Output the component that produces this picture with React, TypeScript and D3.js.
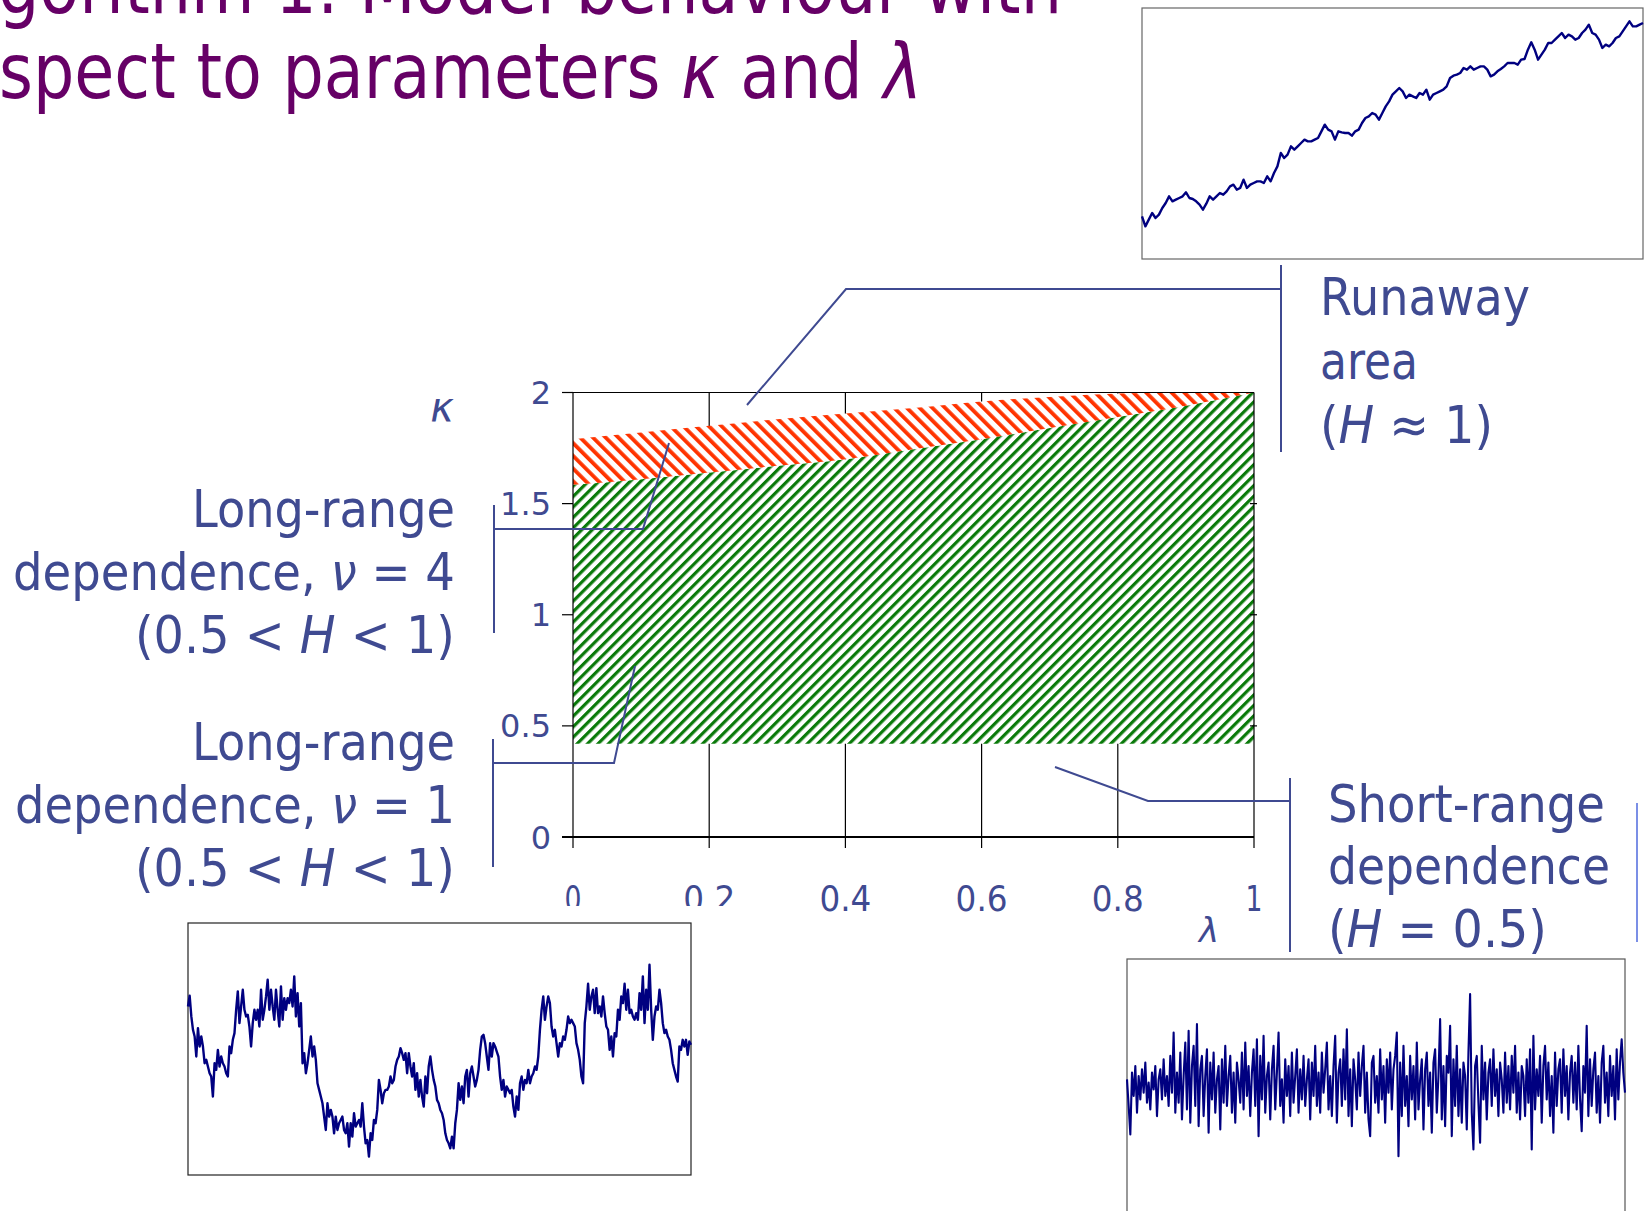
import React, { useLayoutEffect, useRef, useState } from 'react';
import * as d3 from 'd3';

// ---------- data ----------
const lambdaTicks = [0, 0.2, 0.4, 0.6, 0.8, 1];
const lambdaTickLabels = ['0', '0.2', '0.4', '0.6', '0.8', '1'];
const kappaTicks = [0, 0.5, 1, 1.5, 2];
const kappaTickLabels = ['0', '0.5', '1', '1.5', '2'];

const lambdaGrid = [0, 0.1, 0.2, 0.3, 0.4, 0.5, 0.6, 0.7, 0.8, 0.9, 1.0];
const lrdUpper = [1.585, 1.61, 1.64, 1.67, 1.70, 1.745, 1.79, 1.84, 1.89, 1.94, 2.0];
const runawayUpper = [1.79, 1.82, 1.85, 1.88, 1.905, 1.93, 1.96, 1.98, 1.995, 2.0, 2.0];
const lrdLower = 0.42;

// top-right inset: runaway (H ~ 1)
const runawaySeries = [13, 10, 12, 14, 12.5, 13.5, 15.5, 17, 19, 17.5, 18, 18.5, 19, 20.2, 18.5, 18.2, 17.5, 16.5, 15, 16.8, 19, 18, 19, 20, 19.5, 20.5, 22, 22.5, 21, 21.5, 24, 21.5, 22.5, 23, 23.5, 23.5, 23, 25, 23.5, 26, 28, 32, 30.5, 31.5, 34, 33, 34, 35, 36, 35.5, 35.5, 36, 36.5, 38.5, 40.5, 39, 38.5, 36, 38.5, 38.2, 38, 38, 37.2, 38.5, 39, 41, 42.5, 43, 44, 43.5, 42, 44, 46, 47.5, 49.5, 50.5, 51.5, 50.5, 48.5, 49.5, 49, 48.5, 50, 49.5, 51, 48, 49.5, 50, 50.5, 51, 52, 54.5, 55.2, 55.5, 56, 57.5, 57, 58, 57, 57.5, 58, 58, 57, 55, 55.5, 56.5, 57.2, 58, 59, 59, 59, 58.5, 60, 60.2, 63, 65.2, 63, 60, 61.5, 63, 65, 65, 66, 67, 68, 66.5, 67.5, 67, 66, 66.5, 68, 69, 70.5, 68, 67.5, 66, 63.5, 64.5, 64, 65, 66.5, 67, 68.5, 70, 71.5, 70, 70, 70.5, 71];

// bottom-left inset: long-range dependence
const lrdSeries = [51, 54.2, 48, 44, 42, 36, 44.5, 39, 42, 39, 34, 35, 33, 31, 30, 24, 34, 32, 38, 33, 36, 34, 33, 31, 30, 39, 37, 41, 43, 50, 55.5, 46, 51, 56, 50, 48, 48.5, 45, 39, 46, 50, 47, 50, 45, 56, 47, 50, 54, 59, 50, 56, 51, 47, 56, 50, 45, 57, 47, 53.5, 50, 53.5, 52, 56, 51, 60, 48, 55, 45, 52, 34, 37, 31, 34, 38, 42, 36, 39, 35, 28, 26, 24, 22, 18, 14, 22, 18, 20, 18, 13, 18, 14, 16, 17, 18, 14, 13, 16, 9, 16, 12, 19, 15, 16, 17, 15, 22, 15, 10, 11, 6, 13, 11, 17, 16, 20, 29, 26, 22, 25, 26, 26, 27, 30, 28, 29, 33, 35, 36, 38.5, 37, 35, 37, 31, 37, 33, 30, 34, 26, 31, 24, 29, 24, 21, 30, 25, 33, 36, 32, 29, 27, 23, 22, 20, 19, 17, 13, 11, 10, 8.5, 12, 8.5, 16, 20, 28, 23, 27, 22, 30, 32, 24, 31, 33, 30, 27, 29, 32, 38, 42, 42.5, 40, 36, 32, 40, 36, 40, 39, 37.5, 36, 30, 26, 29, 24, 27, 26, 25, 26, 21, 18, 24, 20, 28, 30, 26, 29, 28, 32, 28, 30, 31, 33, 32, 36, 44, 50, 54, 47, 51, 54, 52, 45, 42, 44, 40, 36, 40, 39, 42, 41, 44, 48, 46, 47, 46, 45, 40, 38, 35, 30, 28, 46, 51, 57.8, 50, 54, 56, 49, 56.5, 49, 51, 48, 54, 49, 45, 44, 38, 42, 36, 43, 42, 50, 47, 54, 52, 57.8, 50, 56, 49, 50, 48, 47, 49, 47, 55, 50, 60, 46, 56, 50, 63.5, 50, 41, 48, 51, 50, 56, 52, 46, 43, 44, 42, 41, 38, 34, 32, 30, 28.5, 39, 38, 41, 39, 41, 36.5, 40.5, 39.5];

// bottom-right inset: short-range dependence (H = 0.5)
const srdSeries = [2, -6, -14.5, 4, -3, 6, -8, 3, -4, 5, -2, 7, -5, 1, -7, 4, -1, 6, -9, 2, 5, -4, 8, -3, 3, -6, 9, -2, 16, -8, 4, -5, 10, -10, 3, 13, -7, 16.5, -11, 6, 12, -6, 18.5, -12, 5, 9, -9, 3, 11, -14, 7, -4, 10, -8, 2, 6, -13, 8, -5, 12, -6, 3, 9, -8, 4, -11, 7, 2, -5, 10, -7, 13, -3, 6, -9, 4, 11, -6, 14, -15, 9, -4, 15, -8, 3, 7, -10, 5, 12, -7, 4, 16, -6, 2, -11, 8, -3, 6, -9, 10, -5, 3, 11, -8, 5, -4, 9, -6, 2, 8, -10, 7, -3, 12, -6, 4, -8, 10, -2, 5, 13, -7, 3, -9, 6, 15, -11, 4, 8, -6, 11, -4, 17, -9, 5, -12, 8, 2, -7, 10, -3, 6, 12, -8, 4, -10, -15, 7, 9, -5, 3, -8, 11, -4, 6, -11, 8, -2, 10, -7, 5, 9, 16, -21, 7, -9, 12, -6, 3, -12, 9, -4, 6, -10, 13, -7, 2, 8, -13, 5, 10, -6, 4, -14, 7, 11, -8, 3, 20, -10, 6, -12, 9, 4, 18, -15, 8, -6, 12, -9, 5, -11, 7, 3, -13, 10, 27.5, -8, -19, 6, 9, -5, -17, 12, -4, 7, -10, 4, 8, -6, 11, -3, 5, -9, 7, 2, -8, 10, -5, 6, -7, 9, -2, 12, -8, 4, -10, 6, 3, -9, 8, -5, 11, -19, 15, -7, 5, -3, 9, -11, 6, 12, -4, 7, -9, 3, -14, 10, -6, 5, 8, -8, 11, -3, 6, -10, 4, 9, -5, 7, -7, 12, -4, -13.5, 6, -2, 18, -9, 8, -6, 5, 10, -8, 3, -11, 7, 12, -5, 4, -9, 9, -3, 6, -10, 11, -4, 7, 14, 4, -2];

// ---------- styles ----------
const TEXT = '#3F4A91';
const TITLE = '#660066';
const NAVY = '#000080';
const FONT = '"DejaVu Sans", Verdana, sans-serif';

// Text squeezed horizontally to a given width (slide font is narrower than DejaVu)
function FitText({ x, y, width, anchor = 'start', size, fill, children }: any) {
  const ref = useRef<SVGTextElement>(null);
  const [s, setS] = useState(0.85);
  useLayoutEffect(() => {
    if (ref.current) {
      const w = ref.current.getComputedTextLength();
      if (w > 0) setS(width / w);
    }
  }, [width]);
  const x0 = anchor === 'end' ? x - width : x;
  return (
    <g transform={`translate(${x0},${y}) scale(${s},1)`}>
      <text ref={ref} x={0} y={0} fontSize={size} fill={fill} fontFamily={FONT}>
        {children}
      </text>
    </g>
  );
}

function Inset({ data, box, domain, stroke, width }: any) {
  const [x0, x1, y0, y1] = box;
  const xs = d3.scaleLinear().domain([0, data.length - 1]).range([x0, x1]);
  const ys = d3.scaleLinear().domain(domain).range([y1, y0]);
  const line = d3.line<number>().x((_, i) => xs(i)).y((d) => ys(d));
  return (
    <g>
      <rect x={x0} y={y0} width={x1 - x0} height={y1 - y0} fill="white" stroke={stroke} strokeWidth={1.2} />
      <path d={line(data) || ''} fill="none" stroke={NAVY} strokeWidth={width} strokeLinejoin="round" />
    </g>
  );
}

export default function App() {
  const x = d3.scaleLinear().domain([0, 1]).range([573, 1254]);
  const y = d3.scaleLinear().domain([0, 2]).range([837, 392.5]);

  const green = d3
    .area<number>()
    .x((_, i) => x(lambdaGrid[i]))
    .y0(() => y(lrdLower))
    .y1((d) => y(d))
    .curve(d3.curveMonotoneX);
  const red = d3
    .area<number>()
    .x((_, i) => x(lambdaGrid[i]))
    .y0((_, i) => y(lrdUpper[i]))
    .y1((d) => y(d))
    .curve(d3.curveMonotoneX);

  const leftLabel = (lines: any[], baseline: number) =>
    lines.map((l, i) => (
      <FitText key={i} x={455} y={baseline + i * 63} anchor="end" width={l.w} size={52} fill={TEXT}>
        {l.c}
      </FitText>
    ));

  return (
    <svg width={1648} height={1211} style={{ position: 'absolute', left: 0, top: 0, background: 'white' }}
      xmlns="http://www.w3.org/2000/svg">
      <defs>
        <pattern id="hGreen" patternUnits="userSpaceOnUse" width={7.4} height={7.4} patternTransform="rotate(45)">
          <rect width={7.4} height={7.4} fill="white" />
          <rect x={0} y={0} width={3.2} height={7.4} fill="#0a7a0a" />
        </pattern>
        <pattern id="hRed" patternUnits="userSpaceOnUse" width={9} height={9} patternTransform="rotate(-45)">
          <rect width={9} height={9} fill="white" />
          <rect x={0} y={0} width={3.8} height={9} fill="#ff3300" />
        </pattern>
      </defs>
      <rect width={1648} height={1211} fill="white" />

      {/* title */}
      <FitText x={-2} y={13} width={1064} size={76} fill={TITLE}>gorithm 1: Model behaviour with</FitText>
      <FitText x={-1} y={98} width={923} size={76} fill={TITLE}>
        spect to parameters <tspan fontStyle="italic">κ</tspan> and <tspan fontStyle="italic">λ</tspan>
      </FitText>

      {/* gridlines */}
      {lambdaTicks.slice(1, -1).map((t) => (
        <line key={t} x1={x(t)} x2={x(t)} y1={y(2)} y2={848} stroke="#000" strokeWidth={1.2} />
      ))}

      {/* regions */}
      <path d={green(lrdUpper) || ''} fill="url(#hGreen)" />
      <path d={red(runawayUpper) || ''} fill="url(#hRed)" />

      {/* frame & axes */}
      <line x1={562} x2={x(1)} y1={y(2)} y2={y(2)} stroke="#000" strokeWidth={1.2} />
      <line x1={x(0)} x2={x(0)} y1={y(2)} y2={848} stroke="#000" strokeWidth={1.2} />
      <line x1={x(1)} x2={x(1)} y1={y(2)} y2={848} stroke="#000" strokeWidth={1.2} />
      <line x1={562} x2={x(1)} y1={y(0)} y2={y(0)} stroke="#000" strokeWidth={2} />
      {kappaTicks.map((t) => (
        <line key={'l' + t} x1={562} x2={x(0)} y1={y(t)} y2={y(t)} stroke="#000" strokeWidth={1.2} />
      ))}
      {kappaTicks.slice(1, -1).map((t) => (
        <line key={'r' + t} x1={x(1) - 4} x2={x(1) + 3} y1={y(t)} y2={y(t)} stroke="#000" strokeWidth={1.2} />
      ))}
      {kappaTicks.map((t, i) => (
        <text key={'yl' + t} x={551} y={y(t)} dy="0.36em" textAnchor="end" fontSize={32} fill={TEXT} fontFamily={FONT}>
          {kappaTickLabels[i]}
        </text>
      ))}
      {lambdaTicks.map((t, i) => (
        <text key={'xl' + t} x={x(t)} y={911} textAnchor="middle" fontSize={35} fill={TEXT} fontFamily={FONT}
          textLength={lambdaTickLabels[i].length > 1 ? 52 : 17} lengthAdjust="spacingAndGlyphs">
          {lambdaTickLabels[i]}
        </text>
      ))}
      <rect x={540} y={906} width={205} height={16} fill="white" />
      <text x={442} y={421} textAnchor="middle" fontSize={40} fontStyle="italic" fill={TEXT} fontFamily={FONT}>κ</text>
      <text x={1209} y={942} textAnchor="middle" fontSize={34} fontStyle="italic" fill={TEXT} fontFamily={FONT}>λ</text>

      {/* left labels */}
      {leftLabel([
        { c: 'Long-range', w: 263 },
        { c: <>dependence, <tspan fontStyle="italic">ν</tspan> = 4</>, w: 442 },
        { c: <>(0.5 &lt; <tspan fontStyle="italic">H</tspan> &lt; 1)</>, w: 320 },
      ], 527)}
      {leftLabel([
        { c: 'Long-range', w: 263 },
        { c: <>dependence, <tspan fontStyle="italic">ν</tspan> = 1</>, w: 440 },
        { c: <>(0.5 &lt; <tspan fontStyle="italic">H</tspan> &lt; 1)</>, w: 320 },
      ], 760)}

      {/* right labels */}
      <FitText x={1320} y={315} width={210} size={52} fill={TEXT}>Runaway</FitText>
      <FitText x={1320} y={379} width={98} size={52} fill={TEXT}>area</FitText>
      <FitText x={1320} y={443} width={173} size={52} fill={TEXT}>
        (<tspan fontStyle="italic">H</tspan> ≈ 1)
      </FitText>
      <FitText x={1328} y={822} width={277} size={52} fill={TEXT}>Short-range</FitText>
      <FitText x={1328} y={884} width={282} size={52} fill={TEXT}>dependence</FitText>
      <FitText x={1328} y={947} width={219} size={52} fill={TEXT}>
        (<tspan fontStyle="italic">H</tspan> = 0.5)
      </FitText>

      {/* callouts */}
      <g stroke={TEXT} strokeWidth={2} fill="none">
        <polyline points="747,405 846,289 1281,289" />
        <line x1={1281} x2={1281} y1={265} y2={452} />
        <polyline points="669,443 643,529 494,529" />
        <line x1={494} x2={494} y1={505} y2={633} />
        <polyline points="635,666 614,763 493,763" />
        <line x1={493} x2={493} y1={739} y2={867} />
        <polyline points="1055,767 1148,801 1290,801" />
        <line x1={1290} x2={1290} y1={778} y2={952} />
      </g>
      <line x1={1637} x2={1637} y1={803} y2={942} stroke="#7b8fe6" strokeWidth={2} />

      {/* insets */}
      <Inset data={runawaySeries} box={[1142, 1643, 8, 259]} domain={[0.2, 75.5]} stroke="#666" width={2.4} />
      <Inset data={lrdSeries} box={[188, 691, 923, 1175]} domain={[0.5, 76]} stroke="#222" width={2.4} />
      <Inset data={srdSeries} box={[1127, 1625, 959, 1213]} domain={[-38, 38]} stroke="#555" width={2.1} />
    </svg>
  );
}
